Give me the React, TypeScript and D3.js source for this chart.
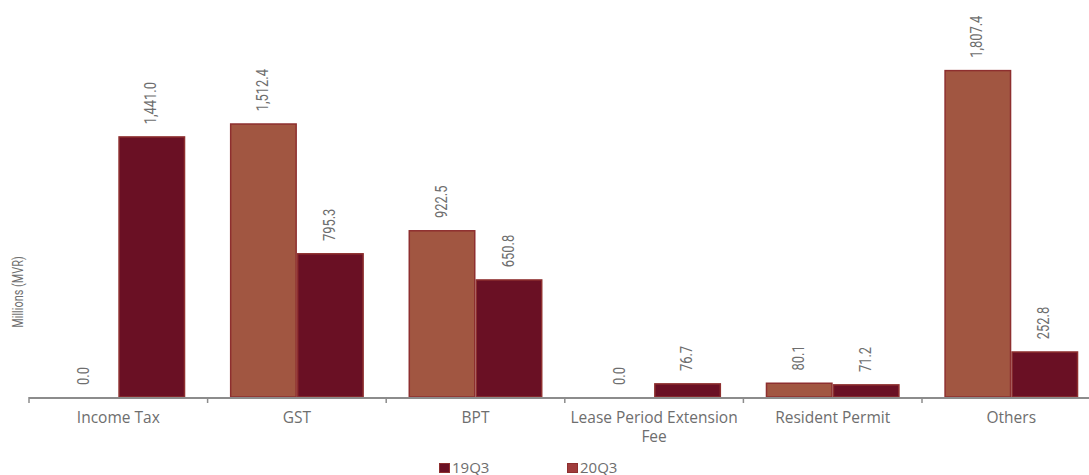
import React from "react";
import * as d3 from "d3";

const categories = ["Income Tax", "GST", "BPT", "Lease Period Extension Fee", "Resident Permit", "Others"];
const series = ["19Q3", "20Q3"];
const values19Q3 = [0.0, 1512.4, 922.5, 0.0, 80.1, 1807.4];
const values20Q3 = [1441.0, 795.3, 650.8, 76.7, 71.2, 252.8];
const yAxisTitle = "Millions (MVR)";

const W = 1089;
const H = 475;
const baseY = 397;
const left = 29;
const step = 178.6;

const barFill = ["#A15641", "#6A1024"];
const legendFill = ["#6A1024", "#A03C3C"];
const stroke = "#8E2F2F";
const textColor = "#6E6E6E";
const labelFont = "Roboto, 'DejaVu Sans', sans-serif";
const catFont = "'Open Sans', 'Noto Sans', sans-serif";

function wrap(label: string, maxChars: number): string[] {
  const words = label.split(" ");
  const lines: string[] = [];
  let cur = "";
  for (const w of words) {
    const t = cur ? cur + " " + w : w;
    if (t.length > maxChars && cur) {
      lines.push(cur);
      cur = w;
    } else cur = t;
  }
  if (cur) lines.push(cur);
  return lines;
}

export default function App() {
  const x0 = d3.scaleBand<string>().domain(categories).range([left, left + step * categories.length]).padding(0);
  const x1 = d3.scaleBand<string>().domain(series).range([0, x0.bandwidth()]).paddingInner(0).paddingOuter(1 / 3);
  const y = d3.scaleLinear().domain([0, 2000]).range([baseY, 35]);
  const data = [values19Q3, values20Q3];
  const fmt = d3.format(",.1f");

  return (
    <svg width={W} height={H} style={{ position: "absolute", left: 0, top: 0, display: "block", background: "#fff" }}>
      {categories.map((c, i) =>
        series.map((s, j) => {
          const v = data[j][i];
          const bx = (x0(c) as number) + (x1(s) as number);
          const bw = x1.bandwidth();
          const top = y(v);
          return (
            <g key={c + s}>
              {v > 0 && (
                <rect x={bx + 0.75} y={top + 0.75} width={bw - 1.5} height={Math.max(0, baseY - top - 0.75)} fill={barFill[j]} stroke={stroke} strokeWidth={1.5} />
              )}
              <text
                transform={`translate(${bx + bw / 2 - 1},${top - 12}) rotate(-90) scale(0.76,1)`}
                textAnchor="start"
                dominantBaseline="central"
                fontFamily={labelFont}
                fontSize={17}
                fill={textColor}
              >
                {fmt(v)}
              </text>
            </g>
          );
        })
      )}
      <line x1={left} x2={W} y1={baseY + 1} y2={baseY + 1} stroke="#8C8C8C" strokeWidth={2} />
      {categories.map((c, i) => {
        const tx = (x0(c) as number);
        return <line key={"t" + i} x1={tx} x2={tx} y1={baseY} y2={baseY + 6} stroke="#8C8C8C" strokeWidth={1.5} />;
      })}
      {categories.map((c) => {
        const cx = (x0(c) as number) + x0.bandwidth() / 2;
        const lines = wrap(c, 22);
        return (
          <text key={"l" + c} x={cx} y={423} textAnchor="middle" fontFamily={catFont} fontSize={15.5} fill={textColor}>
            {lines.map((ln, k) => (
              <tspan key={k} x={cx} dy={k === 0 ? 0 : 18.5}>{ln}</tspan>
            ))}
          </text>
        );
      })}
      <text transform={`translate(23,292) rotate(-90) scale(0.78,1)`} textAnchor="middle" fontFamily={labelFont} fontSize={14} fill={textColor}>
        {yAxisTitle}
      </text>
      {series.map((s, j) => {
        const lx = 439 + j * 128;
        return (
          <g key={"lg" + s}>
            <rect x={lx + 0.5} y={463.5} width={10} height={9} fill={legendFill[j]} stroke={stroke} strokeWidth={1} />
            <text x={lx + 13} y={472.5} fontFamily={catFont} fontSize={15} fill={textColor}>{s}</text>
          </g>
        );
      })}
    </svg>
  );
}
